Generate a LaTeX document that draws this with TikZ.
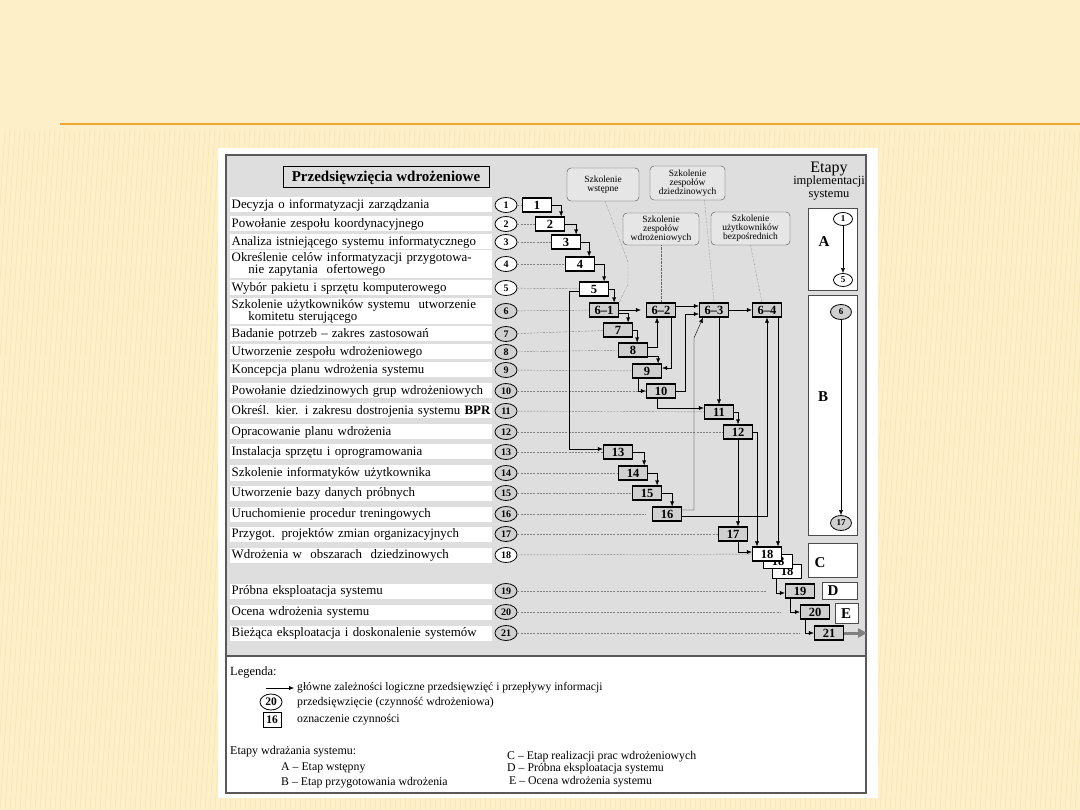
\documentclass[tikz,border=0pt]{standalone}
\usepackage{fontspec}
\setmainfont{Liberation Serif}
\usetikzlibrary{arrows.meta,shapes.geometric}
\definecolor{cream}{HTML}{FDEFC8}
\definecolor{stripe}{HTML}{F2DDA4}
\definecolor{rule}{HTML}{F0A532}
\definecolor{panel}{HTML}{DEDEDE}
\definecolor{boxgray}{HTML}{D0D0D0}
\definecolor{callgray}{HTML}{E6E6E6}

\begin{document}
\begin{tikzpicture}[x=1pt,y=-1pt,
  rowlab/.style={fill=white,anchor=west,minimum width=262pt,minimum height=15pt,inner sep=1pt,text width=259pt,align=left,font=\fontsize{12.9}{12}\selectfont},
  num/.style={ellipse,draw,thick,fill=white,minimum width=22pt,minimum height=15pt,inner sep=0pt,font=\bfseries\fontsize{10}{10}\selectfont},
  gnum/.style={num,fill=boxgray},
  task/.style={draw,line width=1.3pt,fill=white,minimum width=29pt,minimum height=14pt,inner sep=0pt,font=\bfseries\fontsize{12.5}{12.5}\selectfont},
  gtask/.style={task,fill=boxgray},
  link/.style={dash pattern=on 2pt off 1.2pt,gray,thin},
  flow/.style={-{Latex[length=5pt,width=4pt]},thin},
  hint/.style={densely dotted,gray!80!black,thin},
  callout/.style={draw=gray!60!black,fill=callgray,rounded corners=4pt,align=center,inner sep=1pt,font=\fontsize{9.5}{9}\selectfont},
  stage/.style={draw=gray!60!black,fill=white,thin,anchor=north west,inner sep=0pt},
  letter/.style={font=\bfseries\fontsize{15}{15}\selectfont},
  legtext/.style={anchor=west,inner sep=0pt,font=\fontsize{11.8}{11.8}\selectfont}]
\useasboundingbox (0,0) rectangle (1080,810);
\fill[cream] (0,0) rectangle (1080,810);
\begin{scope}
  \clip (0,130) rectangle (1080,810);
  \foreach \x in {-40,-35,...,1080}
    \draw[stripe,line width=0.5pt,opacity=0.6] (\x,810) -- (\x+45,130);
\end{scope}
\draw[rule,line width=2.5pt] (60,124) -- (1080,124);
\fill[white] (218,148) rectangle (878,798);
\draw[line width=1.5pt,draw=gray!70!black,fill=panel] (226,155) rectangle (866,656);
\draw[line width=1.5pt,draw=gray!70!black,fill=white] (226,656) rectangle (866,793);

\node[draw,line width=1pt,minimum width=206pt,minimum height=21pt,inner sep=0pt,font=\bfseries\fontsize{15}{15}\selectfont] (title) at (386,177.5) {Przedsięwzięcia wdrożeniowe};
\node[align=center,font=\fontsize{12.5}{12.5}\selectfont] (etapy) at (829,181) {{\fontsize{16}{16}\selectfont Etapy}\\implementacji\\systemu};

\node[rowlab] (r1) at (230,205) {Decyzja o informatyzacji zarządzania};
\node[rowlab] (r2) at (230,224) {Powołanie zespołu koordynacyjnego};
\node[rowlab] (r3) at (230,242) {Analiza istniejącego systemu informatycznego};
\node[rowlab,minimum height=28pt] (r4) at (230,264) {Określenie celów informatyzacji przygotowa-\\\hspace*{1.3em}nie zapytania\ \ ofertowego};
\node[rowlab] (r5) at (230,288) {Wybór pakietu i sprzętu komputerowego};
\node[rowlab,minimum height=25pt] (r6) at (230,311) {Szkolenie użytkowników systemu\ \ utworzenie\\\hspace*{1.3em}komitetu sterującego};
\node[rowlab] (r7) at (230,334) {Badanie potrzeb -- zakres zastosowań};
\node[rowlab] (r8) at (230,352) {Utworzenie zespołu wdrożeniowego};
\node[rowlab] (r9) at (230,370) {Koncepcja planu wdrożenia systemu};
\node[rowlab] (r10) at (230,391) {Powołanie dziedzinowych grup wdrożeniowych};
\node[rowlab] (r11) at (230,411) {Określ. kier. i zakresu dostrojenia systemu \textbf{BPR}};
\node[rowlab] (r12) at (230,432) {Opracowanie planu wdrożenia};
\node[rowlab] (r13) at (230,452) {Instalacja sprzętu i oprogramowania};
\node[rowlab] (r14) at (230,473) {Szkolenie informatyków użytkownika};
\node[rowlab] (r15) at (230,493) {Utworzenie bazy danych próbnych};
\node[rowlab] (r16) at (230,514) {Uruchomienie procedur treningowych};
\node[rowlab] (r17) at (230,534) {Przygot. projektów zmian organizacyjnych};
\node[rowlab] (r18) at (230,555) {Wdrożenia w\ \ obszarach\ \ dziedzinowych};
\node[rowlab] (r19) at (230,591) {Próbna eksploatacja systemu};
\node[rowlab] (r20) at (230,612) {Ocena wdrożenia systemu};
\node[rowlab] (r21) at (230,633) {Bieżąca eksploatacja i doskonalenie systemów};

\node[num] (c1) at (506,205) {1};
\node[num] (c2) at (506,224) {2};
\node[num] (c3) at (506,242) {3};
\node[num] (c4) at (506,264) {4};
\node[num] (c5) at (506,288) {5};
\node[gnum] (c6) at (506,311) {6};
\node[gnum] (c7) at (506,334) {7};
\node[gnum] (c8) at (506,352) {8};
\node[gnum] (c9) at (506,370) {9};
\node[gnum] (c10) at (506,391) {10};
\node[gnum] (c11) at (506,411) {11};
\node[gnum] (c12) at (506,432) {12};
\node[gnum] (c13) at (506,452) {13};
\node[gnum] (c14) at (506,473) {14};
\node[gnum] (c15) at (506,493) {15};
\node[gnum] (c16) at (506,514) {16};
\node[gnum] (c17) at (506,534) {17};
\node[num] (c18) at (506,555) {18};
\node[gnum] (c19) at (506,591) {19};
\node[gnum] (c20) at (506,612) {20};
\node[gnum] (c21) at (506,633) {21};

\node[task] (t1) at (537,205) {1};
\node[task] (t2) at (550,224) {2};
\node[task] (t3) at (566,242) {3};
\node[task] (t4) at (580,264) {4};
\node[task] (t5) at (594,289) {5};
\node[gtask] (t61) at (604,310) {6--1};
\node[gtask] (t62) at (661,310) {6--2};
\node[gtask] (t63) at (714,310) {6--3};
\node[gtask] (t64) at (767,310) {6--4};
\node[gtask] (t7) at (618,330) {7};
\node[gtask] (t8) at (633,350) {8};
\node[gtask] (t9) at (647,371) {9};
\node[gtask] (t10) at (661,391) {10};
\node[gtask] (t11) at (719,412) {11};
\node[gtask] (t12) at (738,432) {12};
\node[gtask] (t13) at (618,452) {13};
\node[gtask] (t14) at (633,473) {14};
\node[gtask] (t15) at (647,493) {15};
\node[gtask] (t16) at (667,514) {16};
\node[gtask] (t17) at (733,534) {17};
\node[task,line width=1pt] (t18c) at (787,571) {18};
\node[task,line width=1pt] (t18b) at (778,561) {18};
\node[task] (t18) at (767,554) {18};
\node[gtask] (t19) at (800,591) {19};
\node[gtask] (t20) at (815,612) {20};
\node[gtask] (t21) at (829,633) {21};
\coordinate (exit) at (867,633);

\draw[link] (c1) -- (t1);
\draw[link] (c2) -- (t2);
\draw[link] (c3) -- (t3);
\draw[link] (c4) -- (t4);
\draw[link] (c5) -- (t5);
\draw[link] (c6) -- (t61);
\draw[link] (c7) -- (t7);
\draw[link] (c8) -- (t8);
\draw[link] (c9) -- (t9);
\draw[link] (c10) -- (t10);
\draw[link] (c11) -- (t11);
\draw[link] (c12) -- (t12);
\draw[link] (c13) -- (t13);
\draw[link] (c14) -- (t14);
\draw[link] (c15) -- (t15);
\draw[link,shorten >=6pt] (c16) -- (t16);
\draw[link] (c17) -- (t17);
\draw[link] (c18) -- (t18);
\draw[link,shorten >=19pt] (c19) -- (t19);
\draw[link,shorten >=19pt] (c20) -- (t20);
\draw[link,shorten >=14pt] (c21) -- (t21);

\draw[flow] (t1.east) -| ([xshift=-4pt]t2.north east);
\draw[flow] (t2.east) -| ([xshift=-5pt]t3.north east);
\draw[flow] (t3.east) -| ([xshift=-6pt]t4.north east);
\draw[flow] (t4.east) -| ([xshift=-5pt]t5.north east);
\draw[flow] (t5.east) -| ([xshift=-5pt]t61.north east);
\draw[flow,shorten >=5pt] (t61.east) -- (t62.west);
\draw[flow] ([yshift=-3pt]t61.east) -| ([xshift=-5pt]t7.north east);
\draw[flow] (t7.east) -| ([xshift=-11pt]t8.north east);
\draw[flow] ([yshift=3pt]t8.east) -| ([xshift=-4pt]t62.south);
\draw[flow] ([yshift=-6pt]t8.east) -| ([xshift=-4pt]t9.north east);
\draw[flow] ([xshift=10pt]t62.south) |- ([yshift=3pt]t9.east);
\draw[flow] ([yshift=4pt]t62.east) -- ([yshift=4pt]t63.west);
\draw[flow] ([xshift=-9pt]t9.south) |- (t10.west);
\draw[flow] (t10.east) -- ++(9,0) |- ([yshift=-4pt]t63.west);
\draw[flow] ([xshift=-4pt]t10.south) |- ([yshift=4pt]t11.west);
\draw[flow] (t63.east) -- (t64.west);
\draw[flow] (t11.north |- t63.south) -- (t11.north);
\draw[flow] (t11.east) -| (t12.north);
\draw[flow] (t12.south) -- (t12.south |- t17.north);
\draw[flow] (t12.east) -| ([xshift=-10pt]t18.north);
\draw[flow] ([xshift=11pt]t64.south) -- ([xshift=11pt]t18.north);
\draw[flow] ([yshift=4pt]t16.east) -| (694,338) -- ([xshift=-11pt]t63.south);
\draw[flow] ([yshift=-2pt]t16.east) -| (t64.south);
\draw[flow] ([yshift=-2pt]t5.west) -- ++(-10,0) |- ([yshift=3pt]t13.west);
\draw[flow] (t13.east) -| ([xshift=-4pt]t14.north east);
\draw[flow] (t14.east) -| ([xshift=-5pt]t15.north east);
\draw[flow] (t15.east) -| ([xshift=-10pt]t16.north east);
\draw[flow] ([xshift=5pt]t17.south) |- ([yshift=2pt]t18.west);
\draw[flow] ([xshift=-11pt]t18c.south) |- ([yshift=-2pt]t19.west);
\draw[flow] ([xshift=-10pt]t19.south) |- (t20.west);
\draw[flow] ([xshift=-10pt]t20.south) |- (t21.west);
\draw[-{Triangle[length=9pt,width=9pt]},line width=3pt,gray] (t21.east) -- (exit);

\node[callout,minimum width=72pt,minimum height=33pt] (sw) at (603,184.5) {Szkolenie\\wstępne};
\node[callout,minimum width=75pt,minimum height=34pt] (sd) at (687.5,183) {Szkolenie\\zespołów\\dziedzinowych};
\node[callout,minimum width=76pt,minimum height=32pt] (szw) at (661,229) {Szkolenie\\zespołów\\wdrożeniowych};
\node[callout,minimum width=79pt,minimum height=33pt] (su) at (750.5,228.5) {Szkolenie\\użytkowników\\bezpośrednich};
\draw[hint] ([xshift=2pt]sw.south) -- (628,262) -- (628,284) -- (t61.north east);
\draw[hint] (szw.south) -- (t62.north);
\draw[hint] ([xshift=17pt]sd.south) -- (t63.north);
\draw[hint] (su.south) -- ([xshift=-5pt]t64.north);

\node[stage,minimum width=49pt,minimum height=82pt] (stA) at (808,208) {};
\node[letter] (la) at (824,242) {A};
\node[num,minimum width=19pt,minimum height=13pt,font=\bfseries\fontsize{9}{9}\selectfont] (a1) at (843,219) {1};
\node[num,minimum width=19pt,minimum height=13pt,font=\bfseries\fontsize{9}{9}\selectfont] (a5) at (843,280) {5};
\draw[flow] (a1) -- (a5);
\node[stage,minimum width=49pt,minimum height=240pt] (stB) at (808,295) {};
\node[letter] (lb) at (823,397) {B};
\node[gnum,minimum width=21pt,minimum height=15pt,font=\bfseries\fontsize{9}{9}\selectfont] (b6) at (841,312) {6};
\node[gnum,minimum width=21pt,minimum height=15pt,font=\bfseries\fontsize{9}{9}\selectfont] (b17) at (841,523) {17};
\draw[flow] (b6) -- (b17);
\node[stage,minimum width=49pt,minimum height=34pt] (stC) at (808,543) {};
\node[letter] (lc) at (820,563) {C};
\node[stage,minimum width=35pt,minimum height=17pt] (stD) at (822,582) {};
\node[letter] (ld) at (833,591) {D};
\node[stage,minimum width=23pt,minimum height=20pt] (stE) at (835,603) {};
\node[letter] (le) at (846,614) {E};

\node[legtext,font=\fontsize{12.5}{12.5}\selectfont] (leg) at (230,673) {Legenda:};
\coordinate (arra) at (266,688);
\coordinate (arrb) at (294,688);
\draw[flow] (arra) -- (arrb);
\node[legtext,font=\fontsize{11.6}{11.6}\selectfont] (leg1) at (297,688) {główne zależności logiczne przedsięwzięć i przepływy informacji};
\node[num,minimum width=22pt,minimum height=16pt,font=\bfseries\fontsize{11.5}{11.5}\selectfont] (legc) at (271,702) {20};
\node[legtext] (leg2) at (297,703) {przedsięwzięcie (czynność wdrożeniowa)};
\node[task,line width=0.9pt,minimum width=18pt,minimum height=15pt,font=\bfseries\fontsize{11.5}{11.5}\selectfont] (legt) at (272,720) {16};
\node[legtext] (leg3) at (297,720) {oznaczenie czynności};
\node[legtext,font=\fontsize{12}{12}\selectfont] (etw) at (230,752) {Etapy wdrażania systemu:};
\node[legtext] (ea) at (281,768) {A -- Etap wstępny};
\node[legtext] (eb) at (281,783) {B -- Etap przygotowania wdrożenia};
\node[legtext] (ec) at (507,757) {C -- Etap realizacji prac wdrożeniowych};
\node[legtext] (ed) at (507,769) {D -- Próbna eksploatacja systemu};
\node[legtext] (ee) at (509,782) {E -- Ocena wdrożenia systemu};
\end{tikzpicture}
\end{document}
